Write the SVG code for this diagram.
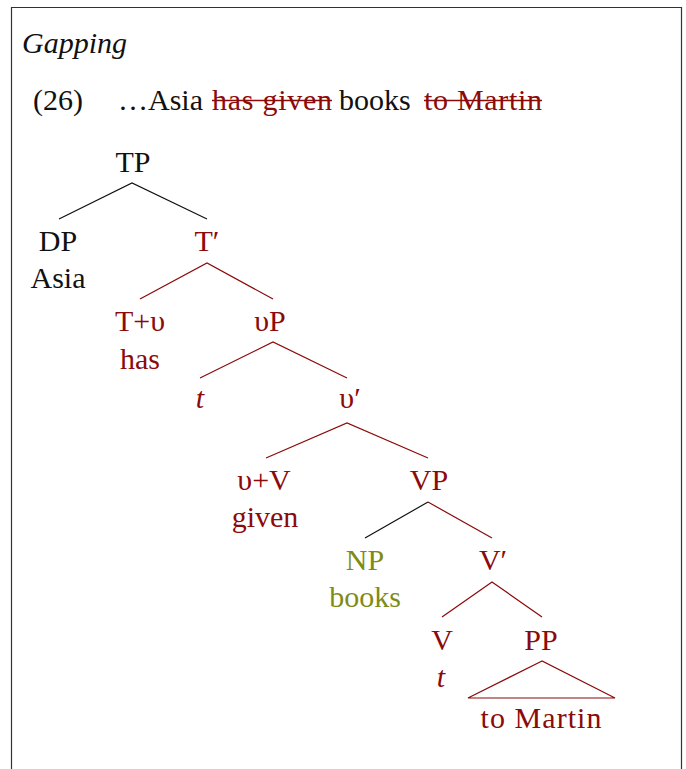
<svg xmlns="http://www.w3.org/2000/svg" width="686" height="769" viewBox="0 0 686 769">
  <style>
    text { font-family: "Liberation Serif", "DejaVu Serif", serif; font-size: 30px; }
    .lbl { text-anchor: middle; }
    .blk { fill: #111111; }
    .red { fill: #8b0a0a; }
    .olv { fill: #7f8c14; }
    .it { font-style: italic; }
    .edge { fill: none; stroke-width: 1.2; }
    .e-blk { stroke: #111111; }
    .e-red { stroke: #8b0a0a; }
    .strike { stroke: #8b0a0a; stroke-width: 1.5; }
  </style>

  <rect width="686" height="769" fill="#ffffff"/>
  <!-- frame, open at the bottom -->
  <path d="M11.5 769 V7.5 H681.5 V769" fill="none" stroke="#333333" stroke-width="1.2"/>

  <!-- heading and example sentence -->
  <text x="22" y="53" class="blk it">Gapping</text>
  <text x="33" y="110" class="blk">(26)</text>
  <text x="118" y="110" class="blk">…Asia</text>
  <text x="212" y="110" class="red" textLength="120" lengthAdjust="spacing">has given</text>
  <text x="339" y="110" class="blk">books</text>
  <text x="424" y="110" class="red" textLength="118" lengthAdjust="spacing">to Martin</text>
  <line x1="212" y1="100.5" x2="332" y2="100.5" class="strike"/>
  <line x1="424" y1="100.5" x2="542" y2="100.5" class="strike"/>

  <!-- tree branches -->
  <g id="connectors">
    <polyline points="59,219 132,183 207,219" class="edge e-blk"/>
    <polyline points="140,299 207,263 273,299" class="edge e-red"/>
    <polyline points="200,378 273,342 347,378" class="edge e-red"/>
    <polyline points="266,458 347,423 428,458" class="edge e-red"/>
    <line x1="365" y1="538" x2="428" y2="502" class="edge e-blk"/>
    <line x1="428" y1="502" x2="492" y2="538" class="edge e-red"/>
    <polyline points="442,617 492,582 542,617" class="edge e-red"/>
    <polygon points="542,661 468,698 615,698" class="edge e-red"/>
  </g>

  <!-- tree nodes -->
  <g id="TP"><text x="133" y="172" class="lbl blk">TP</text></g>
  <g id="DP">
    <text x="58" y="251" class="lbl blk">DP</text>
    <text x="58" y="288" class="lbl blk">Asia</text>
  </g>
  <g id="Tbar"><text x="207" y="251" class="lbl red">T′</text></g>
  <g id="T-v">
    <text x="140" y="331" class="lbl red">T+υ</text>
    <text x="140" y="369" class="lbl red">has</text>
  </g>
  <g id="vP"><text x="270" y="331" class="lbl red">υP</text></g>
  <g id="trace-v"><text x="200" y="408" class="lbl red it">t</text></g>
  <g id="vbar"><text x="350" y="408" class="lbl red">υ′</text></g>
  <g id="v-V">
    <text x="264" y="490" class="lbl red">υ+V</text>
    <text x="265" y="527" class="lbl red">given</text>
  </g>
  <g id="VP"><text x="429" y="490" class="lbl red">VP</text></g>
  <g id="NP">
    <text x="365" y="570" class="lbl olv">NP</text>
    <text x="365" y="607" class="lbl olv">books</text>
  </g>
  <g id="Vbar"><text x="493" y="570" class="lbl red">V′</text></g>
  <g id="V">
    <text x="442" y="650" class="lbl red">V</text>
    <text x="441" y="687" class="lbl red it">t</text>
  </g>
  <g id="PP">
    <text x="541" y="650" class="lbl red">PP</text>
    <text x="541" y="728" class="lbl red" textLength="121" lengthAdjust="spacing">to Martin</text>
  </g>
</svg>
